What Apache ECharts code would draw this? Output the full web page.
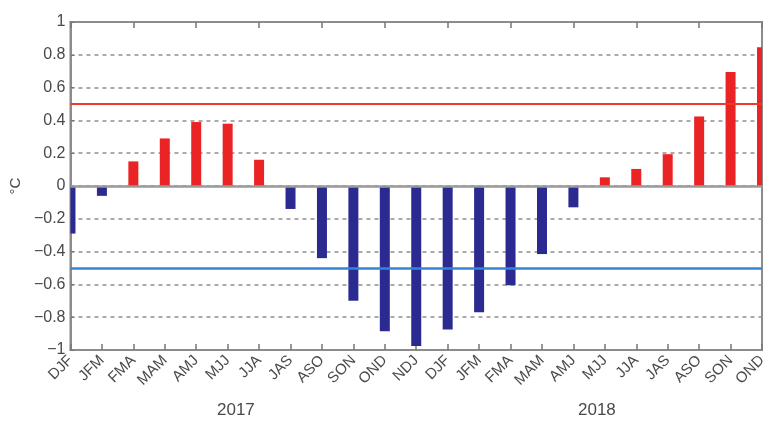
<!DOCTYPE html>
<html lang="en">
<head>
    <meta charset="UTF-8">
    <title>Seasonal anomaly bars</title>
    <style>
        html, body { margin: 0; padding: 0; background: #fff; }
        #main { width: 771px; height: 422px; }
    </style>
</head>
<body>
    <div id="main"></div>
</body>
<script src="https://cdn.jsdelivr.net/npm/echarts@6/dist/echarts.min.js"></script>
<script>
    // categories: 2017 DJF..NDJ, then 2018 DJF..OND
    var seasons = ['DJF', 'JFM', 'FMA', 'MAM', 'AMJ', 'MJJ', 'JJA', 'JAS', 'ASO', 'SON', 'OND', 'NDJ',
        'DJF', 'JFM', 'FMA', 'MAM', 'AMJ', 'MJJ', 'JJA', 'JAS', 'ASO', 'SON', 'OND'];
    var anomaly = [-0.29, -0.06, 0.15, 0.29, 0.39, 0.38, 0.16, -0.14, -0.44, -0.70, -0.885, -0.975,
        -0.875, -0.77, -0.605, -0.415, -0.13, 0.053, 0.104, 0.194, 0.424, 0.695, 0.846];
    var yearLabels = ['2017', '2018'];
    var warmLine = 0.5, coolLine = -0.5;

    var myChart = echarts.init(document.getElementById('main'));
    var txt = '#4a4a4a';
    var font = 'Liberation Sans, Arial, sans-serif';

    // bars are centred on the ticks, so the first and last get cut by the frame
    function renderBar(params, api) {
        var i = api.value(0), v = api.value(1);
        var base = api.coord([i, 0]);
        var end = api.coord([i, v]);
        var w = 10;
        var rect = echarts.graphic.clipRectByRect({
            x: base[0] - w / 2,
            y: Math.min(base[1], end[1]),
            width: w,
            height: Math.abs(base[1] - end[1])
        }, {
            x: params.coordSys.x,
            y: params.coordSys.y,
            width: params.coordSys.width,
            height: params.coordSys.height
        });
        if (!rect) return;
        return {
            type: 'rect',
            shape: rect,
            style: { fill: v >= 0 ? '#ea2424' : '#2a2a90' }
        };
    }

    var option = {
        animation: false,
        grid: {
            left: 67, right: 9, top: 22, bottom: 72,
            show: true, borderColor: '#8c8c8c', borderWidth: 2
        },
        xAxis: [{
            type: 'category',
            data: seasons,
            boundaryGap: false,
            position: 'bottom',
            axisLine: { onZero: false, lineStyle: { color: '#8c8c8c', width: 2 } },
            axisTick: { inside: true, length: 6, lineStyle: { color: '#777', width: 1.5 } },
            axisLabel: { rotate: 45, margin: 8, color: txt, fontSize: 15, fontFamily: font, interval: 0 },
            splitLine: { show: false }
        }, {
            type: 'category',
            data: seasons,
            boundaryGap: false,
            position: 'top',
            axisLine: { onZero: false, lineStyle: { color: '#8c8c8c', width: 2 } },
            axisTick: { inside: true, length: 6, lineStyle: { color: '#777', width: 1.5 } },
            axisLabel: { show: false }
        }],
        yAxis: {
            type: 'value',
            min: -1, max: 1, interval: 0.2,
            name: '°C',
            nameLocation: 'middle',
            nameGap: 44,
            nameRotate: 90,
            nameTextStyle: { color: txt, fontSize: 15, fontFamily: font },
            axisLine: { show: true, lineStyle: { color: '#8c8c8c', width: 2 } },
            axisTick: { show: true, inside: true, length: 4, lineStyle: { color: '#777' } },
            axisLabel: {
                color: txt, fontSize: 16, fontFamily: font, margin: 5,
                formatter: function (v) {
                    var s = (Math.round(v * 10) / 10).toString();
                    return s.replace('-', '\u2212');
                }
            },
            splitLine: { show: true, lineStyle: { color: '#8f8f8f', type: [4, 4], width: 1.5 } }
        },
        series: [{
            type: 'custom',
            renderItem: renderBar,
            data: anomaly.map(function (v, i) { return [i, v]; }),
            encode: { x: 0, y: 1 },
            z: 2
        }, {
            type: 'line',
            data: [],
            markLine: {
                symbol: 'none',
                silent: true,
                label: { show: false },
                data: [
                    { yAxis: 0, lineStyle: { color: '#9a9a9a', width: 2.5, type: 'solid' } },
                    { yAxis: warmLine, lineStyle: { color: '#ec3b26', width: 2, type: 'solid' } },
                    { yAxis: coolLine, lineStyle: { color: '#3584d6', width: 2.5, type: 'solid' } }
                ]
            }
        }],
        graphic: [
            { type: 'text', left: 217, top: 402, style: { text: yearLabels[0], fill: txt, fontSize: 17, fontFamily: font } },
            { type: 'text', left: 578, top: 402, style: { text: yearLabels[1], fill: txt, fontSize: 17, fontFamily: font } }
        ]
    };
    myChart.setOption(option);
</script>
</html>
